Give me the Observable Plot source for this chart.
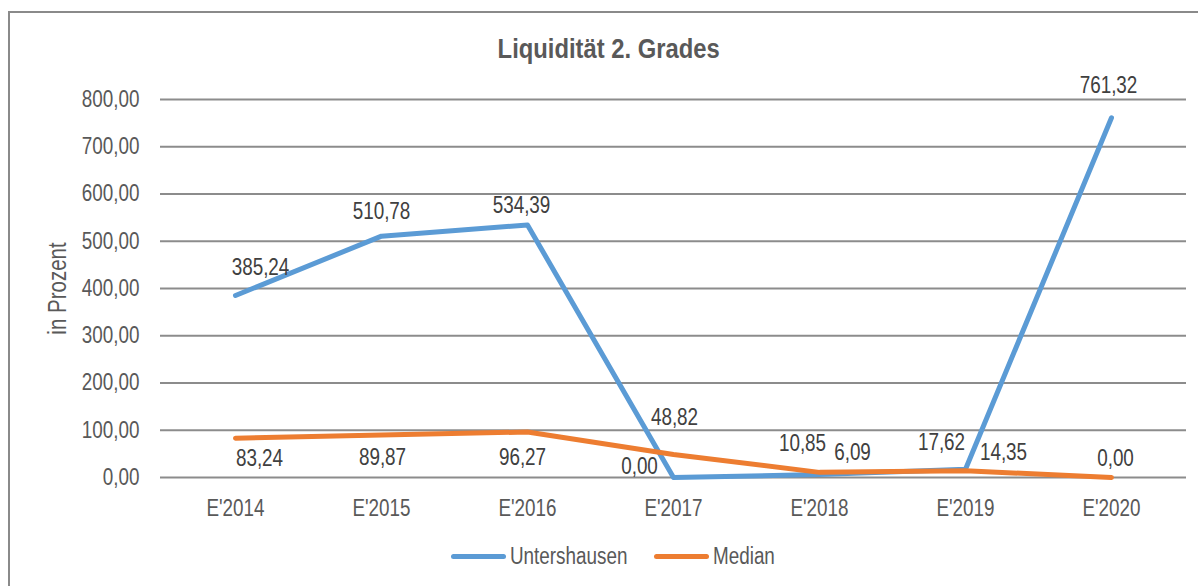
<!DOCTYPE html>
<html>
<head>
<meta charset="utf-8">
<script src="https://cdn.jsdelivr.net/npm/d3@7"></script>
<script src="https://cdn.jsdelivr.net/npm/@observablehq/plot@0.6"></script>
<style>
  html, body { margin: 0; padding: 0; background: #fff; overflow: hidden; }
  body { width: 1198px; height: 586px; position: relative; font-family: "Liberation Sans", Arial, sans-serif; color: #595959; }
  #frame { position: absolute; left: 8px; top: 11px; width: 1200px; height: 600px; border: 2px solid #8a8a8a; box-sizing: border-box; }
  #title { position: absolute; left: 0; width: 1218px; top: 32px; text-align: center; font-weight: bold; font-size: 28px; color: #595959; line-height: 34px; }
  #title span { display: inline-block; transform: scaleX(0.85); transform-origin: center; }
  #chart { position: absolute; left: 0; top: 70px; }
  #legend { position: absolute; top: 541px; left: 0; width: 1226px; display: flex; justify-content: center; align-items: center; font-size: 23px; color: #595959; line-height: 30px; }
  .item { display: flex; align-items: center; margin: 0 13px; }
  .sw { width: 55px; height: 5px; border-radius: 3px; margin-right: 4px; }
  .lab { display: inline-block; overflow: visible; white-space: nowrap; }
  .lab span { display: inline-block; transform: scaleX(0.82); transform-origin: left center; }
  svg text { font-family: "Liberation Sans", Arial, sans-serif; }
</style>
</head>
<body>
<div id="frame"></div>
<div id="title"><span>Liquidität 2. Grades</span></div>
<div id="chart"></div>
<div id="legend"></div>
<script>
const categories = ["E'2014", "E'2015", "E'2016", "E'2017", "E'2018", "E'2019", "E'2020"];
const untershausen = [385.24, 510.78, 534.39, 0.00, 6.09, 17.62, 761.32];
const median = [83.24, 89.87, 96.27, 48.82, 10.85, 14.35, 0.00];
const yTicks = [0, 100, 200, 300, 400, 500, 600, 700, 800];
const seriesNames = ["Untershausen", "Median"];
const seriesColors = ["#5B9BD5", "#ED7D31"];

// label offsets (style only)
const blueDx = [25, 0, -6, -34, 33, -24, -3];
const blueDy = [-28, -25, -19, -11, -22, -27, -32];
const orangeDx = [24, 1, -5, 1, -17, 38, 4];
const orangeDy = [20, 23, 26, -37, -29, -18, -19];

const fmt = v => d3.format(".2f")(v).replace(".", ",");

const rows = [];
categories.forEach((c, i) => {
  rows.push({cat: c, value: untershausen[i], series: seriesNames[0], dx: blueDx[i], dy: blueDy[i]});
  rows.push({cat: c, value: median[i], series: seriesNames[1], dx: orangeDx[i], dy: orangeDy[i]});
});

const labelMarks = rows.map(r => Plot.text([r], {
  x: "cat", y: "value", text: d => fmt(d.value),
  dx: r.dx, dy: r.dy, fill: "#404040", fontSize: 23
}));

const chart = Plot.plot({
  width: 1198,
  height: 460,
  marginTop: 29,
  marginBottom: 53,
  marginLeft: 160,
  marginRight: 12,
  style: {fontSize: "23px", color: "#595959", background: "transparent"},
  x: {type: "point", domain: categories, padding: 0.5, label: null},
  y: {domain: [0, 800], ticks: yTicks, label: null},
  color: {domain: seriesNames, range: seriesColors},
  marks: [
    Plot.ruleY(yTicks, {stroke: "#8c8c8c", strokeWidth: 2}),
    Plot.axisY({ticks: yTicks, tickSize: 0, tickPadding: 21, tickFormat: fmt, fill: "#595959", fontSize: 23, label: null}),
    Plot.axisY({ticks: [], tickSize: 0, label: "in Prozent", labelAnchor: "center", labelArrow: "none", labelOffset: 112, fill: "#595959", fontSize: 25}),
    Plot.axisX({tickSize: 0, tickPadding: 22, fill: "#595959", fontSize: 23, label: null}),
    Plot.line(rows, {x: "cat", y: "value", z: "series", stroke: "series", strokeWidth: 5, strokeLinecap: "round", strokeLinejoin: "round"}),
    ...labelMarks
  ]
});
document.getElementById("chart").appendChild(chart);

// condense SVG text to mimic a narrow font
chart.querySelectorAll("text").forEach(t => {
  const len = t.getComputedTextLength();
  if (len > 0) {
    t.setAttribute("textLength", (len * 0.82).toFixed(1));
    t.setAttribute("lengthAdjust", "spacingAndGlyphs");
  }
});

const legend = document.getElementById("legend");
seriesNames.forEach((n, i) => {
  const it = document.createElement("div");
  it.className = "item";
  it.innerHTML = `<div class="sw" style="background:${seriesColors[i]}"></div><div class="lab"><span>${n}</span></div>`;
  legend.appendChild(it);
  const lab = it.querySelector(".lab");
  const sp = lab.querySelector("span");
  lab.style.width = (sp.getBoundingClientRect().width) + "px";
});
</script>
</body>
</html>
